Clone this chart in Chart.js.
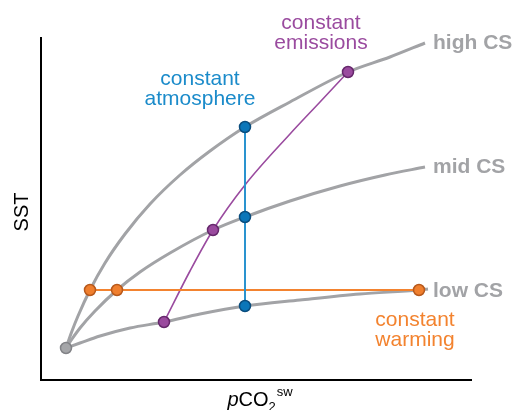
<!DOCTYPE html>
<html>
<head>
<meta charset="utf-8">
<script src="https://cdn.jsdelivr.net/npm/chart.js@4/dist/chart.umd.min.js"></script>
<style>
  html, body { margin: 0; padding: 0; background: #ffffff; }
  canvas { display: block; }
</style>
</head>
<body>
<canvas id="c" width="512" height="410"></canvas>
<script>
// Conceptual SST vs seawater pCO2 diagram (arbitrary units, no ticks)
const origin = [[25, 32]];

// Equilibrium curves for three climate sensitivities
const highCS = [[25, 32], [31, 49], [37, 64], [49, 90], [64, 117], [84, 146], [109, 176],
                [139, 205], [169, 229], [204, 253], [249, 278], [307, 308], [349, 323], [384, 337]];
const midCS  = [[25, 32], [31, 41], [39, 52], [54, 69], [76, 90], [99, 108], [129, 127],
                [172, 150], [204, 163], [249, 179], [299, 194], [344, 205], [384, 213]];
const lowCS  = [[25, 32], [39, 37], [59, 44], [89, 52], [123, 58], [159, 66], [204, 74],
                [259, 80], [319, 86], [378, 90], [387, 91]];

// Scenario paths
const atmospherePts = [[204, 253], [204, 163], [204, 74]];
const warmingPts    = [[49, 90], [76, 90], [378, 90]];
const emissionsPts  = [[123, 58], [172, 150], [307, 308]];
const emissionsPath = [[123, 58], [149, 109], [172, 150], [204, 195], [249, 246], [279, 278], [307, 308]];

const curveNames = ['high CS', 'mid CS', 'low CS'];
const scenarioNames = [['constant', 'atmosphere'], ['constant', 'emissions'], ['constant', 'warming']];

const GRAY = '#a2a3a6', BLUE = '#1b8bca', PURPLE = '#9a4b9f', ORANGE = '#f3832f';
const FONT = '"Liberation Sans", Arial, Helvetica, sans-serif';

const toXY = arr => arr.map(([x, y]) => ({ x, y }));

function curve(data) {
  return { data: toXY(data), showLine: true, borderColor: GRAY, borderWidth: 3,
           pointRadius: 0, cubicInterpolationMode: 'monotone', order: 10, fill: false };
}
function markers(data, fill, stroke, lineColor, lineWidth) {
  return { data: toXY(data), showLine: !!lineColor, borderColor: lineColor || stroke,
           borderWidth: lineWidth || 0, pointRadius: 5.5, pointBorderWidth: 1.5,
           pointBackgroundColor: fill, pointBorderColor: stroke, order: 1, fill: false };
}

// Text annotations placed in data coordinates
const annotations = [
  { lines: [curveNames[0]], x: 392, y: 337, color: GRAY, bold: true, align: 'left' },
  { lines: [curveNames[1]], x: 392, y: 213, color: GRAY, bold: true, align: 'left' },
  { lines: [curveNames[2]], x: 392, y: 89, color: GRAY, bold: true, align: 'left' },
  { lines: scenarioNames[0], x: 159, y: 301, color: BLUE, align: 'center' },
  { lines: scenarioNames[1], x: 280, y: 357, color: PURPLE, align: 'center' },
  { lines: scenarioNames[2], x: 374, y: 60, color: ORANGE, align: 'center' }
];

const textPlugin = {
  id: 'diagramText',
  afterDraw(chart) {
    const { ctx, scales: { x, y }, chartArea } = chart;
    ctx.save();
    ctx.textBaseline = 'middle';
    annotations.forEach(a => {
      ctx.font = (a.bold ? 'bold ' : '') + '21px ' + FONT;
      ctx.fillStyle = a.color;
      ctx.textAlign = a.align;
      const px = x.getPixelForValue(a.x);
      const py = y.getPixelForValue(a.y);
      a.lines.forEach((t, i) => ctx.fillText(t, px, py + i * 20.5));
    });

    // y-axis title
    ctx.fillStyle = '#000';
    ctx.font = '20px ' + FONT;
    ctx.textAlign = 'center';
    ctx.save();
    ctx.translate(22, (chartArea.top + chartArea.bottom) / 2 + 3);
    ctx.rotate(-Math.PI / 2);
    ctx.fillText('SST', 0, 0);
    ctx.restore();

    // x-axis title: pCO2 with subscript and superscript
    const parts = [
      { t: 'p', f: 'italic 20px ' + FONT, dy: 0 },
      { t: 'CO', f: '20px ' + FONT, dy: 0 },
      { t: '2', f: '13px ' + FONT, dy: 5 },
      { t: 'sw', f: '13px ' + FONT, dy: -10, gap: 1 }
    ];
    ctx.textAlign = 'left';
    ctx.textBaseline = 'alphabetic';
    let total = 0;
    parts.forEach(p => { ctx.font = p.f; total += ctx.measureText(p.t).width + (p.gap || 0); });
    let cx = (chartArea.left + chartArea.right) / 2 + 4 - total / 2;
    const base = 406;
    parts.forEach(p => {
      ctx.font = p.f;
      cx += p.gap || 0;
      ctx.fillText(p.t, cx, base + p.dy);
      cx += ctx.measureText(p.t).width;
    });
    ctx.restore();
  }
};

new Chart(document.getElementById('c'), {
  type: 'scatter',
  data: {
    datasets: [
      curve(highCS),
      curve(midCS),
      curve(lowCS),
      { data: toXY(emissionsPath), showLine: true, borderColor: PURPLE, borderWidth: 1.6,
        pointRadius: 0, cubicInterpolationMode: 'monotone', order: 5, fill: false },
      markers(atmospherePts, '#0b76b9', '#0a4d7e', '#2a93cf', 2),
      markers(warmingPts, '#f07f2e', '#b7591c', ORANGE, 2),
      markers(emissionsPts, '#9a4a9e', '#66286c'),
      markers(origin, '#a5a6a9', '#828387')
    ]
  },
  options: {
    responsive: false,
    devicePixelRatio: 1,
    animation: false,
    layout: { padding: { top: 38, right: 41, left: 0, bottom: 0 } },
    plugins: { legend: { display: false }, tooltip: { enabled: false } },
    scales: {
      x: {
        type: 'linear', min: 0, max: 430,
        ticks: { display: false }, grid: { display: false },
        border: { color: '#000', width: 2 },
        afterFit(s) { s.height = 30; }
      },
      y: {
        type: 'linear', min: 0, max: 342,
        ticks: { display: false }, grid: { display: false },
        border: { color: '#000', width: 2 },
        afterFit(s) { s.width = 41; }
      }
    }
  },
  plugins: [textPlugin]
});
</script>
</body>
</html>
